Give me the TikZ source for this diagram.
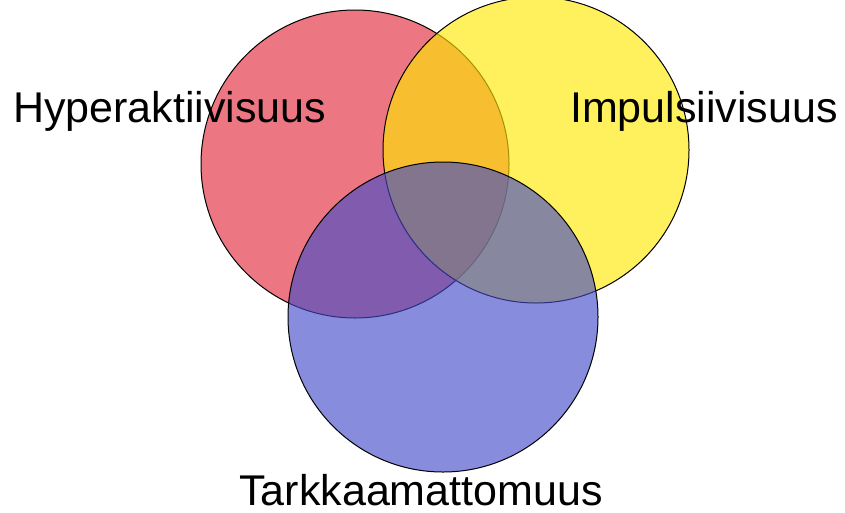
\documentclass[tikz,border=0pt]{standalone}
\usepackage{fontspec}
\setmainfont{Liberation Sans}
\definecolor{vred}{RGB}{225,40,60}
\definecolor{vyellow}{RGB}{255,232,0}
\definecolor{vblue}{RGB}{65,75,200}
\tikzset{
  vcircle/.style={draw=black, line width=1pt, fill opacity=0.63},
  vlabel/.style={font=\fontsize{43}{50}\selectfont, text=black, inner sep=0pt}
}
\begin{document}
\begin{tikzpicture}[x=1pt,y=-1pt]
\useasboundingbox (0,0) rectangle (845,512);
\fill[white] (0,0) rectangle (845,512);
\path[vcircle, fill=vred] (355,164) circle (154) coordinate (r);
\path[vcircle, fill=vyellow] (536,150) circle (153) coordinate (y);
\path[vcircle, fill=vblue] (443,317) circle (155) coordinate (b);
\node[vlabel, anchor=base west] (hyp) at (13,122) {Hyperaktiivisuus};
\node[vlabel, anchor=base east] (imp) at (838,122) {Impulsiivisuus};
\node[vlabel, anchor=base] (tar) at (421,505) {Tarkkaamattomuus};
\end{tikzpicture}
\end{document}
